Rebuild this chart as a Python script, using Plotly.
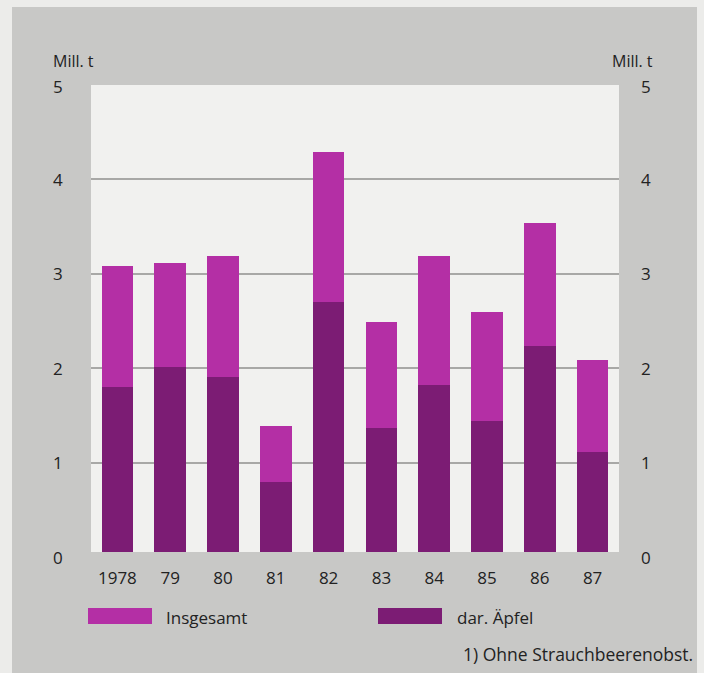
import plotly.graph_objects as go

years = ["1978", "79", "80", "81", "82", "83", "84", "85", "86", "87"]
insgesamt = [3.08, 3.11, 3.19, 1.39, 4.29, 2.49, 3.19, 2.59, 3.53, 2.08]
aepfel = [1.80, 2.01, 1.91, 0.79, 2.70, 1.37, 1.82, 1.44, 2.23, 1.11]
y_ticks = [0, 1, 2, 3, 4, 5]
unit_label = "Mill. t"
legend_labels = ["Insgesamt", "dar. Äpfel"]
footnote = "1) Ohne Strauchbeerenobst."

rest = [round(t - a, 3) for t, a in zip(insgesamt, aepfel)]

C_TOTAL = "#b42fa5"
C_APPLE = "#7c1c74"
GRAY = "#c8c8c6"
EDGE = "#ececea"
PLOT_BG = "#f1f1ef"
TXT = "#222222"
FONT = "Open Sans"
FS = 17

W, H = 704, 673
L, R, T, B = 91, 619, 85, 552
pw, ph = R - L, B - T
ZERO_PX = 557
UNIT_PX = 94.5

def px_x(px):
    return (px - L) / pw

def px_y(py):
    return (B - py) / ph

fig = go.Figure()
fig.add_trace(go.Bar(x=years, y=aepfel, marker=dict(color=C_APPLE, line=dict(width=0)),
                     name=legend_labels[1], showlegend=False))
fig.add_trace(go.Bar(x=years, y=rest, marker=dict(color=C_TOTAL, line=dict(width=0)),
                     name=legend_labels[0], showlegend=False))

def prect(x0, x1, y0, y1, color):
    return dict(type="rect", xref="paper", yref="paper", x0=px_x(x0), x1=px_x(x1),
                y0=px_y(y1), y1=px_y(y0), fillcolor=color, line=dict(width=0))

shapes = [
    prect(0, 12, 0, 673, EDGE),
    prect(0, 704, 0, 7, EDGE),
    prect(697, 704, 0, 673, EDGE),
    prect(88, 152, 608, 624, C_TOTAL),
    prect(378, 442, 608, 624, C_APPLE),
]

def txt(x, y, s, anchor, size=FS, yanchor="middle"):
    return dict(x=x, y=y, xref="paper", yref="paper", text=s, showarrow=False,
                xanchor=anchor, yanchor=yanchor, borderpad=0,
                font=dict(size=size, color=TXT, family=FONT))

ann = []
for v in y_ticks:
    ypx = ZERO_PX - v * UNIT_PX
    if v == 5:
        ypx += 2
    ann.append(txt(px_x(52), px_y(ypx), str(v), "left"))
    ann.append(txt(px_x(652), px_y(ypx), str(v), "right"))
ann.append(txt(px_x(52), px_y(61), unit_label, "left", size=16))
ann.append(txt(px_x(654), px_y(61), unit_label, "right", size=16))
ann.append(txt(px_x(165), px_y(617), legend_labels[0], "left"))
ann.append(txt(px_x(456), px_y(617), legend_labels[1], "left"))
ann.append(txt(px_x(694), px_y(654), footnote, "right", size=17.5))

fig.update_layout(
    width=W, height=H,
    margin=dict(l=L, r=W - R, t=T, b=H - B, pad=0),
    paper_bgcolor=GRAY,
    plot_bgcolor=PLOT_BG,
    barmode="stack",
    bargap=0.4,
    showlegend=False,
    shapes=shapes,
    annotations=ann,
    font=dict(family=FONT, color=TXT, size=FS),
    xaxis=dict(showgrid=False, zeroline=False, showline=False, ticks="",
               tickfont=dict(size=FS, family=FONT, color=TXT), ticklabelstandoff=14),
    yaxis=dict(range=[(ZERO_PX - B) / UNIT_PX, (ZERO_PX - T) / UNIT_PX], tickvals=[1, 2, 3, 4],
               showticklabels=False, showgrid=True, gridcolor="#a8a8a6", gridwidth=2,
               zeroline=False, showline=False),
)

fig.write_html("out.html", config={"displayModeBar": False},
               post_script="document.body.style.margin='0';document.body.style.overflow='hidden';")
